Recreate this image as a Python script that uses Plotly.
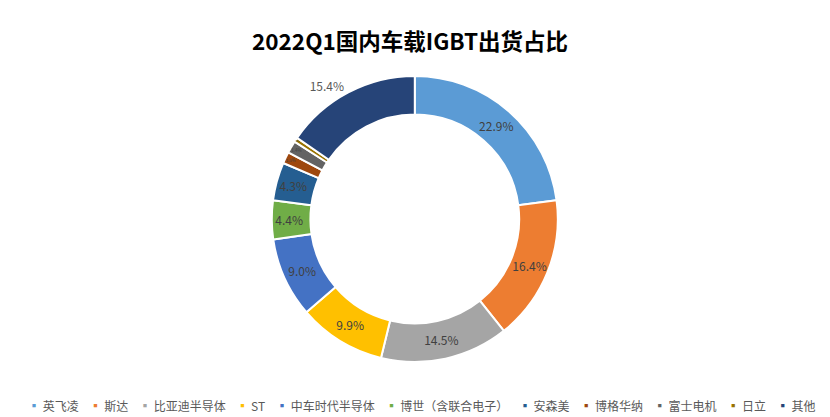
import plotly.graph_objects as go

categories = ["英飞凌", "斯达", "比亚迪半导体", "ST", "中车时代半导体", "博世（含联合电子）",
              "安森美", "博格华纳", "富士电机", "日立", "其他"]
shares = [22.9, 16.4, 14.5, 9.9, 9.0, 4.4, 4.3, 1.3, 1.4, 0.5, 15.4]
colors = ["#5B9BD5", "#ED7D31", "#A5A5A5", "#FFC000", "#4472C4", "#70AD47",
          "#255E91", "#9E480E", "#636363", "#997300", "#264478"]
label_pos = ["inside"] * 10 + ["outside"]

FONT = "Noto Sans CJK SC"

fig = go.Figure(go.Pie(
    labels=categories,
    values=shares,
    sort=False,
    direction="clockwise",
    rotation=0,
    hole=0.73,
    marker=dict(colors=colors, line=dict(color="white", width=2)),
    texttemplate="%{value:.1f}%",
    textposition=label_pos,
    insidetextorientation="horizontal",
    insidetextfont=dict(family=FONT, size=12, color="#404040"),
    outsidetextfont=dict(family=FONT, size=12, color="#595959"),
    domain=dict(x=[0, 0.978], y=[0, 1]),
    showlegend=False,
    hoverinfo="label+value",
))

# legend row built from the category / colour lists
sep = "\u00a0" * 4
parts = []
for name, c in zip(categories, colors):
    parts.append(f'<span style="color:{c}">▪</span>\u00a0{name}')
legend_text = sep.join(parts)

fig.add_annotation(
    text=legend_text, xref="paper", yref="paper", x=0.5, y=-0.152,
    xanchor="center", yanchor="middle", showarrow=False,
    font=dict(family=FONT, size=12, color="#595959"),
)

fig.update_layout(
    width=830, height=417,
    margin=dict(l=0, r=0, t=76, b=55),
    paper_bgcolor="white", plot_bgcolor="white",
    title=dict(text="<b>2022Q1国内车载IGBT出货占比</b>", x=0.494, xanchor="center",
               y=1 - 42 / 417, yanchor="middle", yref="container",
               font=dict(family=FONT, size=22.5, color="#000000")),
)

fig.write_html("out.html")
